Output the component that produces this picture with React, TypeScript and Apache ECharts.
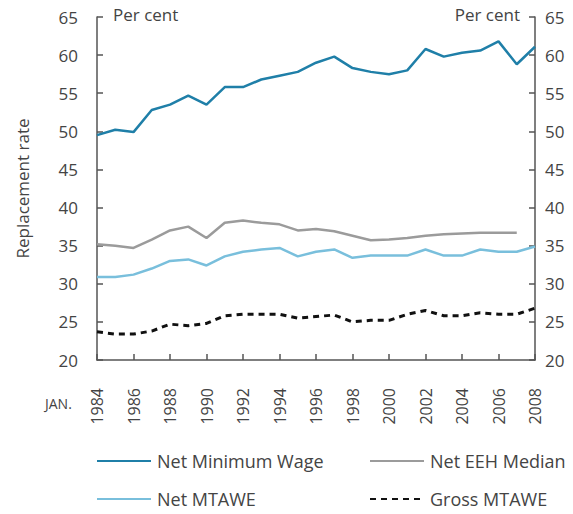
import React, { useEffect, useRef } from "react";
import * as echarts from "echarts";

const years = [1984,1985,1986,1987,1988,1989,1990,1991,1992,1993,1994,1995,1996,1997,1998,1999,2000,2001,2002,2003,2004,2005,2006,2007,2008];
const netMinimumWage = [49.5,50.2,49.9,52.8,53.5,54.7,53.5,55.8,55.8,56.8,57.3,57.8,59.0,59.8,58.3,57.8,57.5,58.0,60.8,59.8,60.3,60.6,61.8,58.8,61.1];
const netEEHMedian = [35.2,35.0,34.7,35.8,37.0,37.5,36.0,38.0,38.3,38.0,37.8,37.0,37.2,36.9,36.3,35.7,35.8,36.0,36.3,36.5,36.6,36.7,36.7,36.7,null];
const netMTAWE = [30.9,30.9,31.2,32.0,33.0,33.2,32.4,33.6,34.2,34.5,34.7,33.6,34.2,34.5,33.4,33.7,33.7,33.7,34.5,33.7,33.7,34.5,34.2,34.2,34.9];
const grossMTAWE = [23.7,23.4,23.4,23.8,24.7,24.5,24.8,25.8,26.0,26.0,26.0,25.5,25.7,25.9,25.0,25.2,25.2,26.0,26.5,25.8,25.8,26.2,26.0,26.0,26.8];

const FONT = "'Open Sans', sans-serif";
const TEXT = "#444";
const AXIS = "#555";

const pair = (vals: (number | null)[]) => years.map((y, i) => [y, vals[i]]);

export default function App() {
  const ref = useRef<HTMLDivElement>(null);
  useEffect(() => {
    if (!ref.current) return;
    const chart = echarts.init(ref.current, undefined, { renderer: "svg" });
    const yAxisCommon = {
      type: "value" as const,
      min: 20,
      max: 65,
      interval: 5,
      axisLine: { show: true, lineStyle: { color: AXIS, width: 1.5 } },
      axisTick: { show: true, inside: true, length: 6, lineStyle: { color: AXIS, width: 1.5 } },
      splitLine: { show: false },
      axisLabel: { color: TEXT, fontFamily: FONT, fontSize: 17 },
    };
    const legendCommon = {
      orient: "vertical" as const,
      top: 451,
      padding: 0,
      itemWidth: 54,
      itemHeight: 14,
      itemGap: 18,
      itemStyle: { opacity: 0 },
      textStyle: { color: TEXT, fontFamily: FONT, fontSize: 18, lineHeight: 20, padding: [0, 0, 0, 1] },
    };
    chart.setOption({
      animation: false,
      textStyle: { fontFamily: FONT },
      grid: { left: 97, right: 38, top: 17, bottom: 154 },
      xAxis: {
        type: "value",
        min: 1984,
        max: 2008,
        interval: 2,
        axisLine: { show: true, lineStyle: { color: AXIS, width: 1.5 } },
        axisTick: { show: true, inside: true, length: 6, lineStyle: { color: AXIS, width: 1.5 } },
        splitLine: { show: false },
        axisLabel: {
          rotate: 90,
          margin: 28,
          color: TEXT,
          fontFamily: FONT,
          fontSize: 16,
          formatter: (v: number) => String(v),
        },
      },
      yAxis: [
        {
          ...yAxisCommon,
          position: "left",
          name: "Replacement rate",
          nameLocation: "middle",
          nameGap: 66,
          nameTextStyle: { color: TEXT, fontFamily: FONT, fontSize: 17 },
          axisLabel: { ...yAxisCommon.axisLabel, margin: 19 },
        },
        {
          ...yAxisCommon,
          position: "right",
          axisLabel: { ...yAxisCommon.axisLabel, margin: 10 },
        },
      ],
      legend: [
        { ...legendCommon, left: 96, data: ["Net Minimum Wage", "Net MTAWE"] },
        { ...legendCommon, left: 369, data: ["Net EEH Median", "Gross MTAWE"] },
      ],
      graphic: [
        { type: "text", left: 113, top: 6, style: { text: "Per cent", fill: TEXT, font: `17px ${FONT}` } },
        { type: "text", right: 53, top: 6, style: { text: "Per cent", fill: TEXT, font: `17px ${FONT}` } },
        { type: "text", left: 45, top: 396, style: { text: "JAN.", fill: TEXT, font: `14px ${FONT}` } },
      ],
      series: [
        {
          name: "Net Minimum Wage",
          type: "line",
          data: pair(netMinimumWage),
          symbol: "none",
          lineStyle: { color: "#1f7fa8", width: 2.5 },
          itemStyle: { color: "#1f7fa8" },
        },
        {
          name: "Net EEH Median",
          type: "line",
          data: pair(netEEHMedian),
          symbol: "none",
          lineStyle: { color: "#9b9b9b", width: 2.5 },
          itemStyle: { color: "#9b9b9b" },
        },
        {
          name: "Net MTAWE",
          type: "line",
          data: pair(netMTAWE),
          symbol: "none",
          lineStyle: { color: "#79bfdc", width: 2.5 },
          itemStyle: { color: "#79bfdc" },
        },
        {
          name: "Gross MTAWE",
          type: "line",
          data: pair(grossMTAWE),
          symbol: "none",
          lineStyle: { color: "#111", width: 3, type: [6, 5] },
          itemStyle: { color: "#111" },
        },
      ],
    });
    return () => chart.dispose();
  }, []);
  return <div ref={ref} style={{ width: 573, height: 514, position: "absolute", left: 0, top: 0 }} />;
}
